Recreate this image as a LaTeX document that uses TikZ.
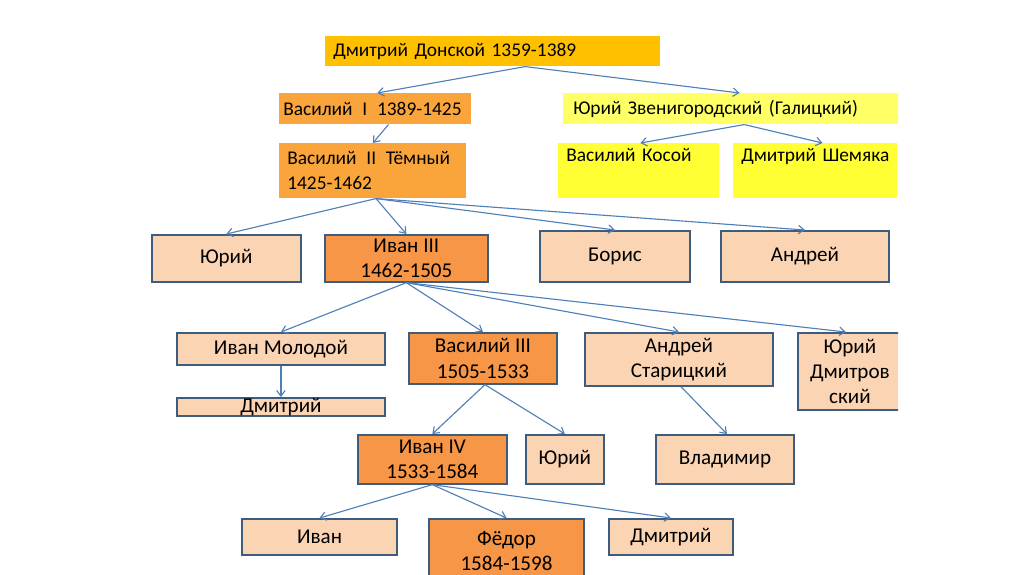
\documentclass[tikz,border=0pt]{standalone}
\usepackage{fontspec}
\setmainfont{Carlito}
\usetikzlibrary{arrows.meta}
\definecolor{GoldTop}{HTML}{FFC000}
\definecolor{OrangeMid}{HTML}{F9A53C}
\definecolor{PaleYellow}{HTML}{FFFF66}
\definecolor{BrightYellow}{HTML}{FFFF33}
\definecolor{Peach}{HTML}{FBD4B4}
\definecolor{DarkOrange}{HTML}{F79646}
\definecolor{FrameBlue}{HTML}{3E5C7E}
\definecolor{LinkBlue}{HTML}{4F7FB8}

\begin{document}
\begin{tikzpicture}[x=0.025cm,y=-0.025cm,>={Straight Barb[length=4pt,width=6pt]}]
    \tikzstyle{top}=[anchor=north west,inner xsep=0.2cm,inner ysep=0pt,align=left,font=\fontsize{13.8}{17.5}\selectfont]
    \tikzstyle{box}=[anchor=north west,draw=FrameBlue,line width=1.3pt,fill=Peach,align=center,inner sep=0pt,font=\fontsize{15}{18}\selectfont]
    \tikzstyle{link}=[->,draw=LinkBlue,line width=0.8pt]
    \useasboundingbox (0,0) rectangle (1024,574);
    \clip (0,0) rectangle (898,574);
    % upper rows
    \node[top,fill=GoldTop,text width=7.975cm,minimum height=0.75cm]   (don)  at (325,36)  {Дмитрий Донской 1359-1389};
    \node[top,fill=OrangeMid,text width=4.6cm,minimum height=0.775cm,inner xsep=0.1cm]  (vas1) at (279,93)  {Василий\, I\, 1389-1425};
    \node[top,fill=PaleYellow,text width=7.95cm,minimum height=0.775cm,inner xsep=0.25cm] (yurz) at (563,93) {Юрий Звенигородский (Галицкий)};
    \node[top,fill=OrangeMid,text width=4.275cm,minimum height=1.375cm] (vas2) at (279,143) {Василий\, II\, Тёмный\\1425-1462};
    \node[top,fill=BrightYellow,text width=3.625cm,text height=13pt,text depth=26pt] (kos)  at (558,143) {Василий Косой};
    \node[top,fill=BrightYellow,text width=3.7cm,text height=13pt,text depth=26pt]   (shem) at (733,143) {Дмитрий Шемяка};
    % boxes
    \node[box,minimum width=3.72cm,minimum height=1.17cm] (yur)   at (151,234) {Юрий};
    \node[box,minimum width=4.07cm,minimum height=1.17cm,fill=DarkOrange] (iv3) at (324,234) {Иван III\\1462-1505};
    \node[box,minimum width=3.75cm,minimum height=1.27cm] (bor)   at (539,230) {Борис};
    \node[box,minimum width=4.2cm,minimum height=1.27cm]  (andr)  at (720,230) {Андрей};
    \node[box,minimum width=5.2cm,minimum height=0.8cm]   (ivm)   at (176,332) {Иван Молодой};
    \node[box,minimum width=3.7cm,minimum height=1.27cm,fill=DarkOrange] (vas3) at (408,332) {Василий III\\1505-1533};
    \node[box,minimum width=4.7cm,minimum height=1.32cm]  (star)  at (584,332) {Андрей\\Старицкий};
    \node[box,minimum width=2.6cm,minimum height=1.92cm]  (yurd)  at (797,332) {Юрий\\Дмитров\\ский};
    \node[box,minimum width=5.2cm,minimum height=0.45cm]  (dmm)   at (176,397) {\raisebox{-2pt}{Дмитрий}};
    \node[box,minimum width=3.72cm,minimum height=1.22cm,fill=DarkOrange] (iv4) at (357,434) {Иван IV\\1533-1584};
    \node[box,minimum width=1.95cm,minimum height=1.22cm] (yur2)  at (525,434) {Юрий};
    \node[box,minimum width=3.45cm,minimum height=1.22cm] (vlad)  at (655,434) {Владимир};
    \node[box,minimum width=3.88cm,minimum height=0.9cm]  (ivan)  at (241,518) {Иван};
    \node[box,minimum width=3.88cm,minimum height=1.6cm,fill=DarkOrange] (fed) at (428,518) {Фёдор\\1584-1598};
    \node[box,minimum width=3.1cm,minimum height=0.9cm]   (dmi)   at (608,518) {Дмитрий};
    % links
    \draw[link] ([xshift=0.81cm]don.south) -- ([xshift=0.05cm]vas1.north);
    \draw[link] ([xshift=0.81cm]don.south) -- ([xshift=0.18cm]yurz.north);
    \draw[link] ([xshift=0.33cm]vas1.south) -- (vas2.north);
    \draw[link] ([xshift=0.3cm]yurz.south) -- ([xshift=0.04cm]kos.north);
    \draw[link] ([xshift=0.3cm]yurz.south) -- ([xshift=0.18cm]shem.north);
    \draw[link] ([xshift=0.08cm]vas2.south) -- (yur.north);
    \draw[link] ([xshift=0.08cm]vas2.south) -- (iv3.north);
    \draw[link] ([xshift=0.08cm]vas2.south) -- (bor.north);
    \draw[link] ([xshift=0.08cm]vas2.south) -- (andr.north);
    \draw[link] (iv3.south) -- (ivm.north);
    \draw[link] (iv3.south) -- (vas3.north);
    \draw[link] (iv3.south) -- (star.north);
    \draw[link] (iv3.south) -- ([xshift=-0.1cm]yurd.north);
    \draw[link] (ivm.south) -- (dmm.north);
    \draw[link] ([xshift=0.05cm]vas3.south) -- (iv4.north);
    \draw[link] ([xshift=0.05cm]vas3.south) -- (yur2.north);
    \draw[link] ([xshift=0.05cm]star.south) -- ([xshift=0.05cm]vlad.north);
    \draw[link] (iv4.south) -- (ivan.north);
    \draw[link] (iv4.south) -- (fed.north);
    \draw[link] (iv4.south) -- (dmi.north);
\end{tikzpicture}
\end{document}
